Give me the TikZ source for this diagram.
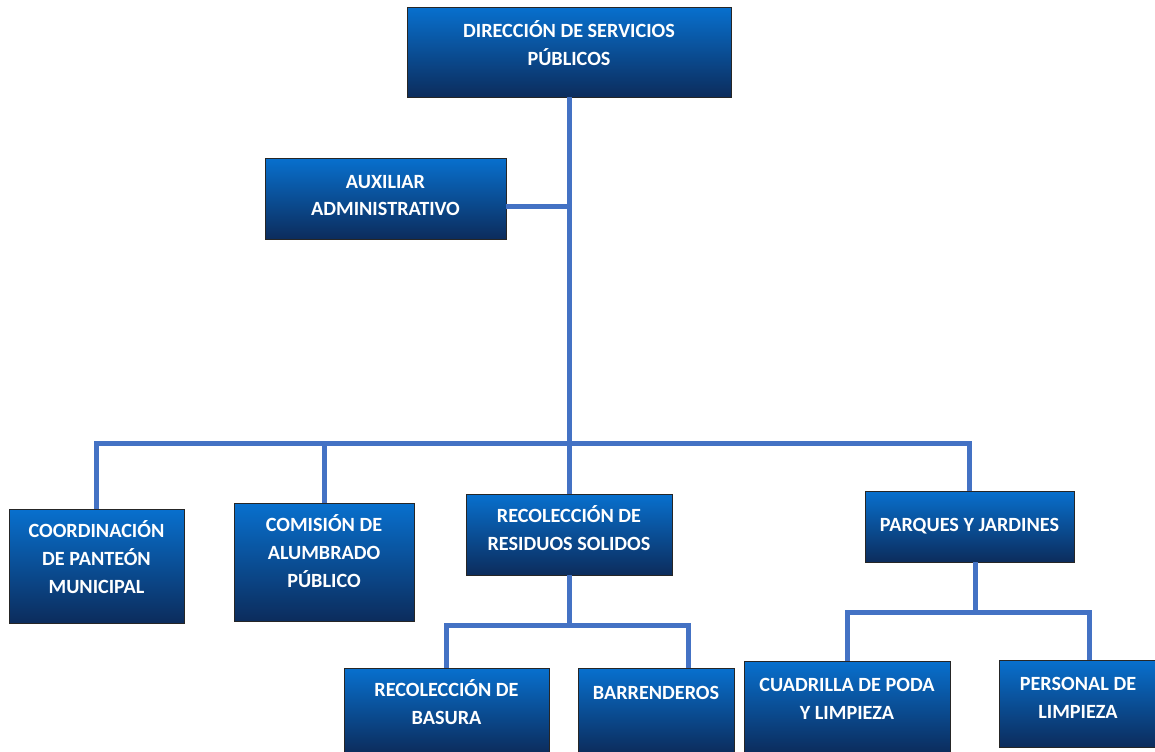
\documentclass[tikz,border=0pt]{standalone}
\usepackage{fontspec}
\setmainfont{Carlito}
\usetikzlibrary{fit}
\definecolor{boxtop}{RGB}{8,112,206}
\definecolor{boxbottom}{RGB}{12,44,92}
\definecolor{linkblue}{RGB}{68,114,196}
\tikzstyle{unit}=[draw=black!85, line width=0.5pt, top color=boxtop, bottom color=boxbottom, inner sep=0pt]
\tikzstyle{unittext}=[anchor=north, align=center, text=white, inner sep=0pt,
  font=\bfseries\fontsize{11.5}{15.9}\selectfont]
\tikzstyle{link}=[draw=linkblue, line width=0.1cm]
% box from corner (#2,#3) to (#4,#5), text #6 set below its top edge
\newcommand{\orgbox}[7][0.34cm]{%
  \node[unit, fit={(#3,#4) (#5,#6)}] (#2) {};
  \node[unittext] (#2-t) at ([yshift=-#1]#2.north) {#7};}

\begin{document}
\begin{tikzpicture}[x=0.02cm, y=-0.02cm]
\useasboundingbox (0,0) rectangle (1155,751);

\orgbox[0.28cm]{dir}{407}{7}{731}{97}{DIRECCIÓN DE SERVICIOS\\PÚBLICOS}
\orgbox{aux}{265}{158}{506}{239}{AUXILIAR\\ADMINISTRATIVO}
\orgbox[0.24cm]{coord}{9}{509}{184}{623}{COORDINACIÓN\\DE PANTEÓN\\MUNICIPAL}
\orgbox[0.24cm]{com}{234}{503}{414}{621}{COMISIÓN DE\\ALUMBRADO\\PÚBLICO}
\orgbox[0.24cm]{res}{466}{494}{672}{575}{RECOLECCIÓN DE\\RESIDUOS SOLIDOS}
\orgbox[0.54cm]{park}{865}{491}{1074}{562}{PARQUES Y JARDINES}
\orgbox[0.24cm]{bas}{344}{668}{549}{753}{RECOLECCIÓN DE\\BASURA}
\orgbox[0.36cm]{barr}{578}{668}{734}{753}{BARRENDEROS}
\orgbox{cuad}{744}{661}{950}{753}{CUADRILLA DE PODA\\Y LIMPIEZA}
\orgbox{pers}{999}{660}{1157}{747}{PERSONAL DE\\LIMPIEZA}

\coordinate (bus) at (569,443);
\coordinate (resbus) at (569,625);
\coordinate (parkbus) at (975,612);

\draw[link] (dir.south) -- (res.north);
\draw[link] ([yshift=-0.15cm]aux.east) -- ([yshift=-0.15cm]aux.east -| dir.south);
\draw[link] (coord.north) |- (bus) -| (park.north);
\draw[link] (com.north) -- (com.north |- bus);
\draw[link] (res.south) -- (resbus);
\draw[link] (bas.north) |- (resbus) -| ([xshift=0.64cm]barr.north);
\draw[link] (park.south -| parkbus) -- (parkbus);
\draw[link] (cuad.north) |- (parkbus) -| ([xshift=0.22cm]pers.north);
\end{tikzpicture}
\end{document}
